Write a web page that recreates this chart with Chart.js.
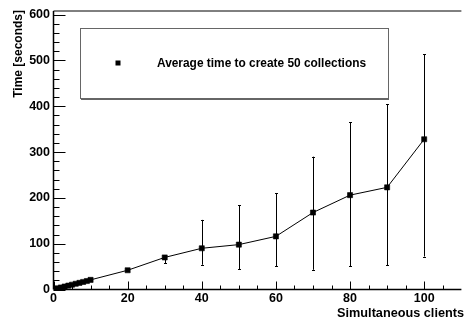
<!DOCTYPE html>
<html>
<head>
<meta charset="utf-8">
<script src="https://cdn.jsdelivr.net/npm/chart.js@4/dist/chart.umd.min.js"></script>
<style>
  html, body { margin: 0; padding: 0; background: #fff; }
  #wrap { width: 464px; height: 320px; }
</style>
</head>
<body>
<div id="wrap"><canvas id="c" width="464" height="320"></canvas></div>
<script>
// ---- data ----
const clients = [1, 2, 3, 4, 5, 6, 7, 8, 9, 10, 20, 30, 40, 50, 60, 70, 80, 90, 100];
const avgTime = [2.5, 4.5, 6.5, 8.5, 10.5, 12.5, 14.5, 16.5, 18.5, 21, 42, 70, 90, 98, 116, 168, 206, 223, 328];
const errLow  = [2.5, 4.5, 6.5, 8.5, 10.5, 12.5, 14.5, 16.5, 18.5, 21, 41, 57, 54, 44, 51, 43, 51, 53, 72];
const errHigh = [2.5, 4.5, 6.5, 8.5, 10.5, 12.5, 14.5, 16.5, 18.5, 21, 43, 74, 152, 184, 210, 290, 365, 405, 514];
const xMajorTicks = [0, 20, 40, 60, 80, 100];
const yMajorTicks = [0, 100, 200, 300, 400, 500, 600];
const legendLabel = 'Average time to create 50 collections';
const xTitle = 'Simultaneous clients';
const yTitle = 'Time [seconds]';

const FONT = '"Liberation Sans", Arial, Helvetica, sans-serif';

const rootPlugin = {
  id: 'rootStyle',
  beforeDatasetsDraw(chart) {
    const ctx = chart.ctx, xs = chart.scales.x, ys = chart.scales.y;
    ctx.save();
    ctx.strokeStyle = '#000';
    ctx.lineWidth = 1;
    for (let i = 0; i < clients.length; i++) {
      if (errHigh[i] - errLow[i] < 0.5) continue;
      const px = Math.round(xs.getPixelForValue(clients[i])) + 0.5;
      const pl = ys.getPixelForValue(errLow[i]);
      const ph = ys.getPixelForValue(errHigh[i]);
      ctx.beginPath();
      ctx.moveTo(px, pl); ctx.lineTo(px, ph);
      ctx.moveTo(px - 1.5, Math.round(pl) + 0.5); ctx.lineTo(px + 1.5, Math.round(pl) + 0.5);
      ctx.moveTo(px - 1.5, Math.round(ph) + 0.5); ctx.lineTo(px + 1.5, Math.round(ph) + 0.5);
      ctx.stroke();
    }
    ctx.restore();
  },
  afterDraw(chart) {
    const ctx = chart.ctx, xs = chart.scales.x, ys = chart.scales.y;
    const a = chart.chartArea;
    ctx.save();
    ctx.strokeStyle = '#000';
    // frame
    ctx.lineWidth = 1;
    ctx.beginPath();
    ctx.moveTo(a.left, a.top); ctx.lineTo(a.right + 2, a.top);
    ctx.stroke();
    ctx.lineWidth = 1.5;
    ctx.beginPath();
    ctx.moveTo(a.left, a.top); ctx.lineTo(a.left, a.bottom);
    ctx.moveTo(a.left, a.bottom); ctx.lineTo(a.right + 2, a.bottom);
    ctx.stroke();
    // y ticks (inward)
    ctx.lineWidth = 1;
    ctx.beginPath();
    for (let v = 0; v <= ys.max; v += 20) {
      const py = Math.round(ys.getPixelForValue(v)) + 0.5;
      const len = (v % 100 === 0) ? 12 : 6;
      ctx.moveTo(a.left, py); ctx.lineTo(a.left + len, py);
    }
    // x ticks (inward)
    for (let v = 0; v <= xs.max; v += 5) {
      const px = Math.round(xs.getPixelForValue(v)) + 0.5;
      const len = (v % 20 === 0) ? 8 : 4;
      ctx.moveTo(px, a.bottom); ctx.lineTo(px, a.bottom - len);
    }
    ctx.stroke();

    // axis titles
    ctx.fillStyle = '#000';
    ctx.font = 'bold 12.7px ' + FONT;
    ctx.textAlign = 'right';
    ctx.textBaseline = 'alphabetic';
    ctx.fillText(xTitle, 464, 317);
    ctx.save();
    ctx.translate(22, 10);
    ctx.rotate(-Math.PI / 2);
    ctx.font = 'bold 12px ' + FONT;
    ctx.textAlign = 'right';
    ctx.fillText(yTitle, 0, 0);
    ctx.restore();

    // legend box
    const lx = 80, ly = 28, lw = 308, lh = 70;
    ctx.fillStyle = '#fff';
    ctx.fillRect(lx, ly, lw, lh);
    ctx.strokeStyle = '#666';
    ctx.lineWidth = 1;
    ctx.strokeRect(lx + 0.5, ly + 0.5, lw, lh);
    ctx.beginPath();
    ctx.moveTo(lx + 1, ly + lh + 1.5); ctx.lineTo(lx + lw + 1, ly + lh + 1.5);
    ctx.stroke();
    ctx.fillStyle = '#000';
    ctx.fillRect(115.5, 60.5, 5, 5);
    ctx.font = 'bold 11.9px ' + FONT;
    ctx.textAlign = 'left';
    ctx.textBaseline = 'middle';
    ctx.fillText(legendLabel, 157, 63.5);
    ctx.restore();
  }
};

new Chart(document.getElementById('c'), {
  type: 'scatter',
  data: {
    datasets: [{
      label: legendLabel,
      data: clients.map((c, i) => ({ x: c, y: avgTime[i] })),
      showLine: true,
      borderColor: '#000',
      borderWidth: 1,
      backgroundColor: '#000',
      pointStyle: 'rect',
      pointRadius: 3.6,
      pointBorderWidth: 0.6,
      pointBorderColor: '#000',
      pointBackgroundColor: '#000',
      tension: 0
    }]
  },
  options: {
    responsive: false,
    animation: false,
    events: [],
    layout: { padding: { top: 11, right: 0.5, left: 0, bottom: 0 } },
    plugins: { legend: { display: false }, tooltip: { enabled: false } },
    scales: {
      x: {
        type: 'linear', min: 0, max: 109.5,
        afterFit(s) { s.height = 30.5; },
        afterBuildTicks(s) { s.ticks = xMajorTicks.map(v => ({ value: v })); },
        ticks: { color: '#000', font: { family: FONT, size: 12.5, weight: 'bold' }, padding: 2, maxRotation: 0, autoSkip: false },
        grid: { display: false, drawTicks: false },
        border: { display: false }
      },
      y: {
        type: 'linear', min: 0, max: 608,
        afterFit(s) { s.width = 53.5; },
        afterBuildTicks(s) { s.ticks = yMajorTicks.map(v => ({ value: v })); },
        ticks: { color: '#000', font: { family: FONT, size: 12.5, weight: 'bold' }, padding: 3.5, autoSkip: false },
        grid: { display: false, drawTicks: false },
        border: { display: false }
      }
    }
  },
  plugins: [rootPlugin]
});
</script>
</body>
</html>
